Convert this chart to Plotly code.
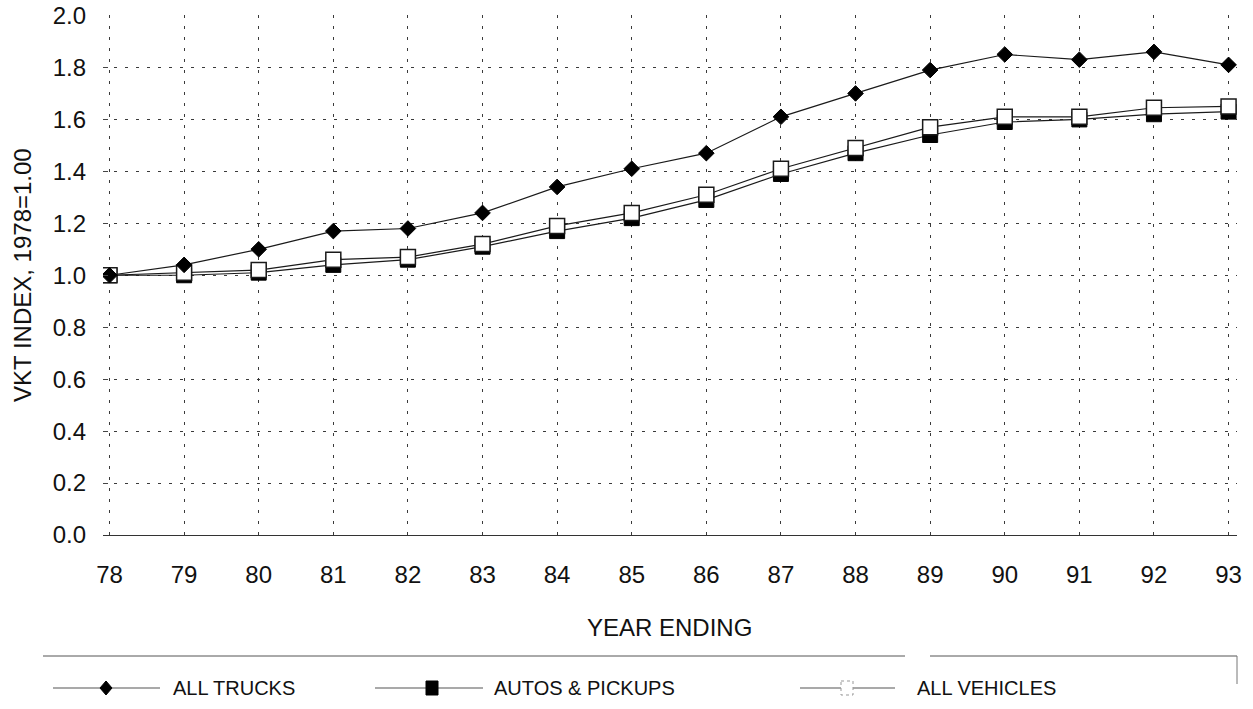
import plotly.graph_objects as go

# data
years = ['78', '79', '80', '81', '82', '83', '84', '85', '86', '87', '88', '89', '90', '91', '92', '93']
all_trucks = [1.00, 1.04, 1.10, 1.17, 1.18, 1.24, 1.34, 1.41, 1.47, 1.61, 1.70, 1.79, 1.85, 1.83, 1.86, 1.81]
autos_pickups = [1.00, 1.00, 1.01, 1.04, 1.06, 1.11, 1.17, 1.22, 1.29, 1.39, 1.47, 1.54, 1.59, 1.60, 1.62, 1.63]
all_vehicles = [1.00, 1.01, 1.02, 1.06, 1.07, 1.12, 1.19, 1.24, 1.31, 1.41, 1.49, 1.57, 1.61, 1.61, 1.645, 1.65]
y_ticks = [0.0, 0.2, 0.4, 0.6, 0.8, 1.0, 1.2, 1.4, 1.6, 1.8, 2.0]
legend_names = ['ALL TRUCKS', 'AUTOS & PICKUPS', 'ALL VEHICLES']

W, H = 1253, 709
PLOT_L, PLOT_R, PLOT_T, PLOT_B = 103, 1237, 15, 535   # plot box in window pixels
L, R = PLOT_L, W - PLOT_R
T, B = PLOT_T, H - PLOT_B
FONT = 'Liberation Sans, Arial, sans-serif'


def px(x):
    # window pixel -> paper x
    return (x - PLOT_L) / (PLOT_R - PLOT_L)


def py(y):
    # window pixel -> paper y
    return (PLOT_B - y) / (PLOT_B - PLOT_T)


line_style = dict(color='#1a1a1a', width=1.2)

fig = go.Figure()

fig.add_trace(go.Scatter(
    x=years, y=autos_pickups, name=legend_names[1], mode='lines+markers',
    line=line_style,
    marker=dict(symbol='square', size=15, color='black', line=dict(color='black', width=1))
))

fig.add_trace(go.Scatter(
    x=years, y=all_vehicles, name=legend_names[2], mode='lines+markers',
    line=line_style,
    marker=dict(symbol='square', size=15, color='white', line=dict(color='#1a1a1a', width=1.5))
))

fig.add_trace(go.Scatter(
    x=years, y=all_trucks, name=legend_names[0], mode='lines+markers',
    line=line_style,
    marker=dict(symbol='diamond', size=12, color='black', line=dict(color='black', width=1))
))

grid = dict(showgrid=True, gridcolor='#3a3a3a', gridwidth=1, griddash='3px,8px', zeroline=False,
            automargin=False)

fig.update_layout(
    width=W, height=H,
    margin=dict(l=L, r=R, t=T, b=B),
    plot_bgcolor='white', paper_bgcolor='white',
    showlegend=False,
    font=dict(family=FONT, size=24, color='#111'),
    xaxis=dict(
        type='category', range=[-0.087, 15.113], **grid,
        showline=True, linecolor='#333', linewidth=1,
        ticks='', ticklabelstandoff=18,
        tickfont=dict(size=24)
    ),
    yaxis=dict(
        # tiny headroom so the 2.0 gridline is still drawn at the top edge
        range=[0, 2.002], tickvals=y_ticks, ticktext=['%.1f' % v for v in y_ticks], **grid,
        showline=False, ticks='inside', ticklen=5, tickcolor='#444',
        ticklabelstandoff=16, ticklabeloverflow='allow', tickfont=dict(size=24)
    ),
)

annotations = [
    dict(text='YEAR ENDING', x=px(669), y=py(627), xref='paper', yref='paper',
         showarrow=False, xanchor='center', yanchor='middle', font=dict(size=24)),
    dict(text='VKT INDEX, 1978=1.00', x=px(22), y=py(275), xref='paper', yref='paper',
         showarrow=False, textangle=-90, xanchor='center', yanchor='middle', font=dict(size=24)),
]

# manual legend, laid out like the original box at the bottom
leg_y = 688
legend_items = [(53, 160, 106, 171), (375, 483, 432, 492), (800, 895, 847, 915)]
shapes = [
    dict(type='line', xref='paper', yref='paper', x0=px(43), x1=px(905), y0=py(656), y1=py(656),
         line=dict(color='#555', width=1)),
    dict(type='line', xref='paper', yref='paper', x0=px(930), x1=px(1237), y0=py(656), y1=py(656),
         line=dict(color='#555', width=1)),
    dict(type='line', xref='paper', yref='paper', x0=px(1237), x1=px(1237), y0=py(656), y1=py(684),
         line=dict(color='#777', width=1)),
]
for i, (x0, x1, xm, xt) in enumerate(legend_items):
    shapes.append(dict(type='line', xref='paper', yref='paper', x0=px(x0), x1=px(x1),
                       y0=py(leg_y), y1=py(leg_y), line=dict(color='#555', width=1.2)))
    annotations.append(dict(text=legend_names[i], x=px(xt), y=py(leg_y), xref='paper', yref='paper',
                            showarrow=False, xanchor='left', yanchor='middle', font=dict(size=20)))
    if i == 0:
        path = 'M %f %f L %f %f L %f %f L %f %f Z' % (
            px(xm - 6), py(leg_y), px(xm), py(leg_y - 7), px(xm + 6), py(leg_y), px(xm), py(leg_y + 7))
        shapes.append(dict(type='path', xref='paper', yref='paper', path=path,
                           fillcolor='black', line=dict(color='black', width=1)))
    else:
        shapes.append(dict(type='rect', xref='paper', yref='paper',
                           x0=px(xm - 6), x1=px(xm + 6), y0=py(leg_y - 7), y1=py(leg_y + 7),
                           fillcolor='black' if i == 1 else 'white',
                           line=dict(color='black' if i == 1 else '#999', width=1,
                                     dash='solid' if i == 1 else 'dot')))

fig.update_layout(annotations=annotations, shapes=shapes)

# drop the default page margin so the figure fills the window exactly
fig.write_html("out.html", config={'displayModeBar': False},
               post_script="document.body.style.margin='0';")
